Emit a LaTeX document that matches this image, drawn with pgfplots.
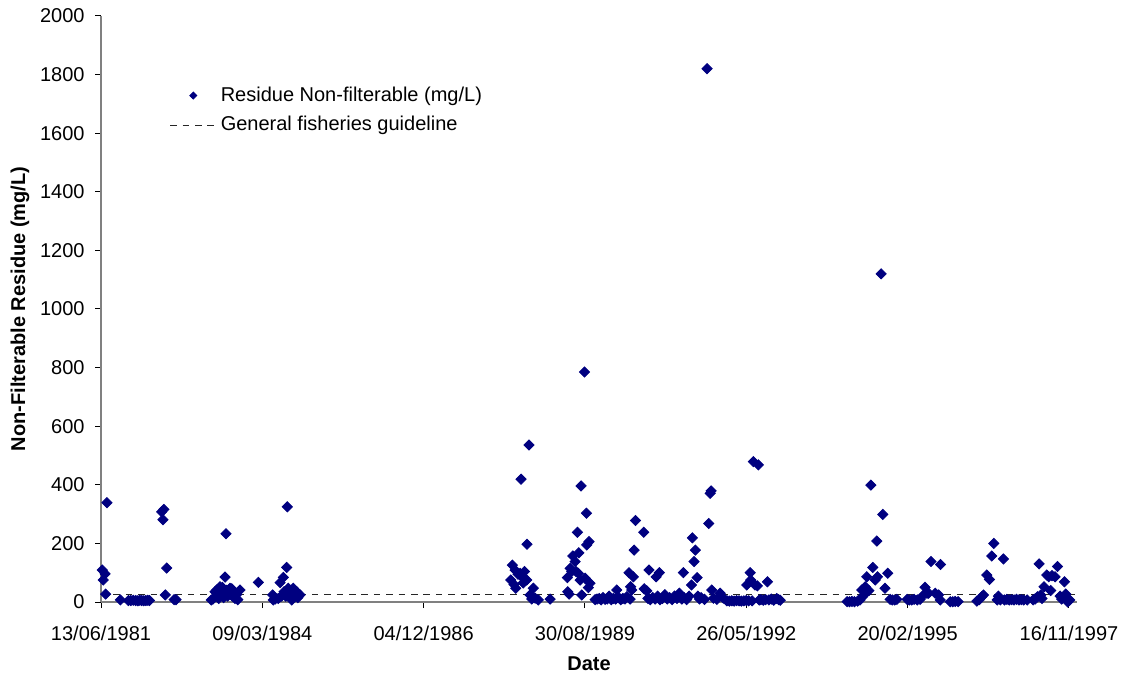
\documentclass[border=0pt]{standalone}
\usepackage{pgfplots}
\pgfplotsset{compat=1.18}
\usepackage{fontspec}
\setmainfont{Liberation Sans}
\definecolor{navy}{RGB}{0,0,128}
\definecolor{axisgray}{RGB}{128,128,128}

\pgfplotsset{
    diamond legend/.style={legend image code/.code={%
        \draw[mark size=1.25pt, mark options={rotate=45, fill=navy, draw=navy}]
        plot[only marks, mark=square*] coordinates {(11.5pt,0pt)};}},
    dash legend/.style={legend image code/.code={%
        \draw[##1] (0pt,0pt) -- (23pt,0pt);}},
}

% days since 13/06/1981, residue in mg/L
\pgfplotstableread{
day val
8 109
14 75
25 96
29 27
37 339
120 7
170 5
185 5
200 6
215 5
228 4
240 6
252 5
265 4
278 5
290 6
300 5
376 308
384 281
390 316
399 24
407 116
453 8
465 8
684 7
694 10
707 35
717 41
722 20
730 12
738 52
745 30
752 50
760 15
769 85
775 233
780 40
785 20
800 47
810 45
815 20
820 30
830 12
840 25
848 8
862 41
975 67
1064 24
1068 7
1080 10
1099 12
1110 66
1120 20
1130 84
1135 35
1145 20
1151 118
1155 325
1161 47
1170 30
1182 7
1192 47
1200 20
1213 35
1220 15
1234 24
2540 75
2550 126
2560 60
2567 109
2571 47
2585 95
2598 98
2604 419
2608 86
2617 65
2625 104
2639 75
2641 197
2653 536
2660 24
2670 10
2680 47
2691 13
2711 7
2784 10
2891 83
2893 35
2902 27
2908 115
2918 104
2925 157
2939 138
2945 104
2953 238
2959 98
2962 168
2970 75
2976 396
2980 24
2997 785
3001 81
3009 303
3011 195
3021 49
3025 206
3031 64
3063 8
3075 10
3088 12
3100 7
3112 15
3125 9
3138 10
3150 20
3163 8
3175 12
3190 10
3197 41
3210 15
3222 8
3235 12
3248 10
3260 18
3273 100
3280 10
3283 52
3290 41
3300 86
3305 177
3313 278
3364 238
3367 45
3383 38
3390 12
3397 109
3405 8
3420 15
3435 10
3441 86
3450 20
3461 100
3465 8
3480 12
3495 25
3510 10
3525 15
3540 8
3555 20
3570 12
3585 30
3600 10
3610 100
3615 15
3630 8
3645 20
3660 58
3666 219
3676 138
3684 177
3695 83
3700 20
3710 10
3720 15
3741 9
3757 1820
3767 268
3776 371
3782 379
3786 41
3797 13
3818 9
3838 30
3858 13
3880 4
3895 3
3910 4
3925 3
3940 5
3955 4
3970 3
3985 4
4000 5
4003 58
4015 4
4024 100
4027 75
4036 4
4044 479
4054 58
4069 55
4075 468
4080 7
4090 8
4105 6
4120 8
4131 69
4140 7
4155 10
4170 6
4189 12
4200 8
4210 6
4625 1
4640 1
4655 2
4670 1
4690 3
4705 7
4716 41
4720 18
4730 24
4737 52
4747 86
4760 39
4772 399
4784 118
4799 75
4809 208
4813 86
4836 1120
4846 299
4860 47
4877 98
4891 9
4905 7
4920 7
4933 9
4997 9
5010 7
5025 7
5040 9
5060 7
5077 9
5098 24
5108 50
5120 30
5130 30
5145 138
5171 30
5192 24
5202 7
5204 128
5264 1
5280 1
5295 2
5313 1
5429 3
5445 8
5460 18
5470 24
5491 92
5507 77
5522 157
5534 200
5555 7
5563 20
5575 7
5594 147
5600 7
5615 9
5630 7
5645 8
5660 7
5675 9
5690 7
5705 8
5720 7
5741 7
5778 7
5790 10
5805 18
5815 130
5825 24
5833 12
5846 52
5863 92
5875 86
5887 39
5895 90
5914 86
5929 121
5945 20
5955 10
5972 69
5980 27
5993 0
6005 7
}\residue

\begin{document}
\fontsize{10}{12}\selectfont
\begin{tikzpicture}
\begin{axis}[
    at={(0,0)}, anchor=south west,
    scale only axis,
    width=488pt, height=293pt,
    xmin=0, xmax=6050, ymin=0, ymax=2000,
    axis x line*=bottom, axis y line*=left,
    axis line style={-, draw=axisgray, line width=0.6pt},
    tick style={black, line width=0.5pt},
    tick align=outside, major tick length=3pt,
    xtick={0,1000,...,6000},
    xticklabels={13/06/1981,09/03/1984,04/12/1986,30/08/1989,26/05/1992,20/02/1995,16/11/1997},
    ytick={0,200,...,2000},
    /pgf/number format/assume math mode=true,
    /pgf/number format/1000 sep={},
    tick label style={font=\fontsize{10}{12}\selectfont},
    x tick label style={yshift=-5.5pt},
    y tick label style={xshift=-1.7pt},
    xlabel={\textbf{Date}},
    ylabel={\textbf{Non-Filterable Residue (mg/L)}},
    every axis x label/.style={at={(axis description cs:0.5,0)}, yshift=-31pt, anchor=center},
    every axis y label/.style={at={(axis description cs:0,0.5)}, xshift=-40.5pt, rotate=90, anchor=center},
    legend style={at={(rel axis cs:0.068,0.89)}, anchor=north west, draw=none, fill=none,
        font=\fontsize{10}{12}\selectfont, row sep=2pt, inner sep=1pt},
    legend cell align=left,
    clip=false,
]
\addplot[only marks, mark=square*, mark size=1.8pt,
    mark options={rotate=45, fill=navy, draw=navy}, diamond legend]
    table[x=day, y=val] {\residue};
\addlegendentry{Residue Non-filterable (mg/L)}
\addplot[black!85, line width=0.5pt, dash pattern=on 3.3pt off 2.9pt, dash legend]
    coordinates {(0,25) (6050,25)};
\addlegendentry{General fisheries guideline}
\end{axis}
\pgfresetboundingbox
\path (-50.5pt,-38.5pt) rectangle (513pt,301pt);
\end{tikzpicture}
\end{document}
